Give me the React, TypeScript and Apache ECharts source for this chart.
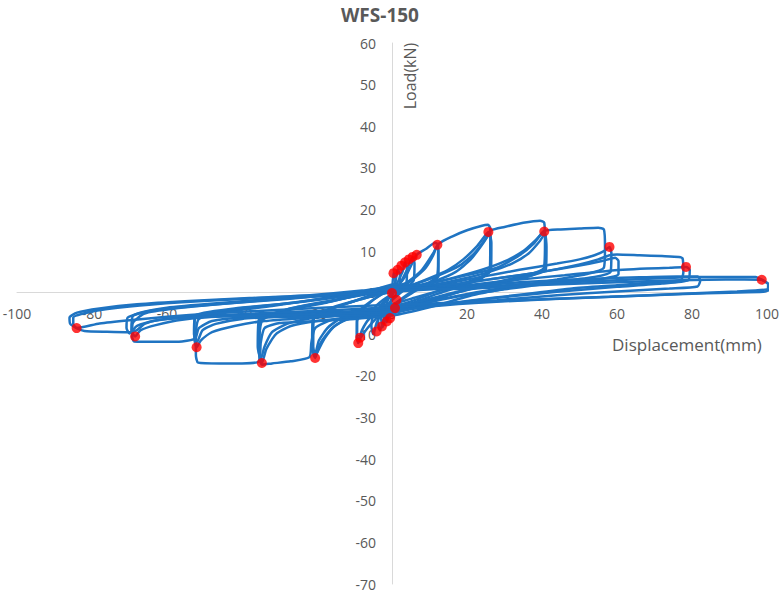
import React, { useEffect, useRef } from "react";
import * as echarts from "echarts";

// Axis ticks
const xTicks = { min: -100, max: 100, interval: 20 };
const yTicks = { min: -70, max: 60, interval: 10 };

// Hysteresis loops (displacement mm, load kN)
const small1 = [[0, 0], [0.4, 4.7], [0.9, 3.5], [0.8, 1], [0, -0.6], [-0.3, -3], [-1.4, -7.1], [-1.8, -5], [-1.2, -2], [0, 0]];
const small2 = [[0, 0], [1, 3], [1.5, 5.5], [2.1, 4.5], [2, 1.5], [1, -0.5], [0, -1.5], [-1, -4], [-2.5, -8.3], [-2.9, -6], [-2, -2.5], [0, -0.5]];
const small3 = [[0, -0.5], [1.5, 2.5], [2.8, 5], [3.5, 7.3], [4, 6], [3.8, 2], [2, 0], [0, -1.5], [-1.5, -4], [-3.2, -9.1], [-3.7, -7], [-3, -3], [0, -0.5]];
const small4 = [[0, -0.5], [2, 2], [4, 5.5], [5.5, 8.6], [6, 7], [5.8, 3], [3, 0.5], [0, -1.8], [-2, -4], [-4, -7], [-5, -10], [-5.5, -8], [-4.5, -3.5], [-2, -1.5], [0, -0.3]];

const loop12a = [[0, -0.5], [2, 2], [4, 4.5], [6.6, 9.1], [9, 10.5], [11.5, 12], [12.3, 11.5], [12.3, 8], [12, 4], [10, 2.5], [7, 1.2], [4, -0.5], [1, -2.5], [0, -3.2], [-2, -4.5], [-4, -6], [-6.5, -8.5], [-8.5, -11], [-9, -12.1], [-9.3, -11], [-9.3, -7], [-8, -4.5], [-6, -2.5], [-3, -0.5], [0, 0.8]];
const loop12b = [[0, 0.8], [3, 1.5], [6, 3.5], [9, 6], [11, 9], [12, 11.3], [12.4, 10], [12.4, 4], [10, 2.2], [6, 0.3], [2, -2], [0, -3], [-3, -4.5], [-6, -6.2], [-8, -9], [-9, -11.8], [-9.4, -10], [-9.3, -5], [-6, -2.3], [-2, 0], [0, 1]];

const loop26a = [[0, 1], [4, 2.5], [8, 5.5], [11, 9.5], [12.5, 11.8], [16, 13.5], [20, 15], [24, 16.1], [25.6, 16.3], [26.2, 15.5], [26.2, 10], [26, 5], [23, 3.5], [18, 2], [12, 0.3], [6, -1.8], [0, -3.5], [-5, -4.8], [-10, -5.8], [-15, -7.8], [-18, -11], [-20, -14.5], [-20.5, -15.7], [-21, -14.5], [-21, -9], [-20.5, -5.5], [-16, -3.8], [-10, -2], [-4, 0], [0, 1.2]];
const loop26b = [[0, 1.2], [5, 1.8], [10, 3.5], [15, 5.5], [19, 8], [22.5, 11], [24.5, 13.3], [25.7, 14.6], [26.3, 13], [26.3, 6], [24, 3.5], [18, 1.5], [12, -0.3], [6, -2.3], [0, -4], [-6, -5.2], [-12, -6.3], [-16, -8.5], [-19, -12], [-20.5, -15.3], [-21.2, -13], [-21, -6], [-16, -3.6], [-8, -1.5], [0, 0.5]];
const loop26c = [[0, 0.5], [6, 1.5], [12, 3], [17, 5], [21, 8], [24, 11.5], [26, 14], [26.5, 12], [26.4, 5.5], [22, 3], [14, 0.8], [6, -1.2], [0, -2.8], [-7, -4.3], [-13, -5.8], [-17, -8.3], [-19.5, -11.5], [-20.5, -14.8], [-21.3, -12], [-21, -6], [-14, -3.2], [-6, -1], [0, 0.3]];

const loop40a = [[0, 0.3], [6, 2], [12, 4], [18, 6.5], [22, 9.5], [25, 13], [26.5, 15], [30, 15.8], [35, 16.8], [39.5, 17.3], [40.6, 16.8], [40.8, 12], [40.5, 6], [37, 4.5], [30, 3], [22, 1.2], [14, -0.8], [6, -2.8], [0, -4.5], [-8, -5.5], [-16, -6.5], [-20.5, -8.5], [-21.5, -12], [-22, -15.5], [-27, -16.5], [-32, -17], [-34.7, -17.3], [-35.3, -16], [-35.3, -10], [-34.5, -6.5], [-28, -4.3], [-18, -2.5], [-8, -0.3], [0, 1.5]];
const loop40b = [[0, 1.5], [8, 1.8], [16, 3.5], [24, 5.5], [30, 7.5], [35, 10], [38.5, 12.8], [40.6, 14.7], [41, 12], [41, 6], [36, 3.8], [28, 2.2], [18, 0.2], [8, -2.8], [0, -5], [-10, -6], [-20, -6.8], [-27, -8], [-31, -10], [-33.5, -13.5], [-34.7, -16.9], [-35.5, -14], [-35.3, -7], [-28, -4], [-16, -2], [-6, 0], [0, 1]];
const loop40c = [[0, 1], [9, 1.6], [18, 3.2], [26, 5], [32, 7], [36.5, 9.5], [39.5, 12.5], [40.8, 14.2], [41.2, 11], [41, 5.5], [34, 3.4], [24, 1.6], [12, -1], [0, -3.8], [-12, -5.2], [-22, -6.2], [-28, -7.5], [-32, -9.5], [-34, -13], [-35, -16], [-35.8, -13], [-35.5, -6.5], [-26, -3.6], [-12, -1.2], [0, 0.6]];

const loop57a = [[0, 0.6], [8, 1.8], [18, 3.8], [28, 6], [34, 9], [38, 12], [40.5, 14.8], [45, 15.2], [50, 15.4], [55, 15.6], [56.5, 15.2], [56.8, 11], [56.5, 6], [52, 4.5], [44, 3.2], [34, 1.6], [22, -0.5], [10, -3.5], [0, -5.5], [-10, -6.3], [-20, -6.8], [-30, -7.3], [-34, -8.5], [-35, -12], [-35.5, -16.5], [-40, -17], [-46, -17], [-51.7, -16.8], [-52.3, -15], [-52.3, -10], [-51.5, -6.3], [-44, -4.6], [-32, -3.2], [-18, -1.3], [-6, 0.5], [0, 2]];
const loop57b = [[0, 2], [10, 1.6], [22, 3.5], [34, 5.5], [44, 7], [50, 8], [54, 9], [56.5, 10], [58, 11], [58.5, 9.5], [58.3, 5], [54, 3.8], [44, 2.7], [30, 1.2], [16, -1], [4, -3.5], [0, -4.5], [-10, -5.3], [-22, -6], [-34, -6.8], [-42, -8], [-48, -9.5], [-51, -11.5], [-52.1, -13.1], [-52.7, -11], [-52.5, -6], [-44, -4.2], [-30, -2.8], [-15, -1], [0, 1]];
const loop60 = [[0, 1], [12, 1.5], [26, 3.2], [40, 5], [50, 6.5], [56, 7.6], [59.5, 8.4], [60.4, 7.6], [60.4, 4.5], [56, 3.3], [44, 2.4], [30, 0.8], [14, -1.5], [0, -4], [-14, -5], [-28, -5.6], [-40, -6.3], [-47, -7.5], [-50.5, -9], [-52, -11.8], [-52.8, -10], [-52.5, -5.5], [-42, -3.8], [-26, -2.4], [-12, -0.8], [0, 0.5]];

const loop78a = [[0, 0.5], [12, 1.5], [26, 3.2], [40, 5], [50, 6.8], [55, 8], [58, 9], [60, 9.2], [66, 9], [72, 8.8], [76.5, 8.6], [77.5, 8.2], [77.7, 5], [77, 3], [70, 2.5], [60, 1.8], [48, 1], [34, -0.5], [20, -2], [6, -3.8], [0, -4.8], [-12, -5.5], [-26, -5.8], [-40, -6], [-48, -6.8], [-51.5, -8.5], [-52.5, -11], [-56, -11.7], [-62, -11.8], [-68.8, -11.7], [-69.3, -10.5], [-69.2, -7.5], [-66, -5], [-58, -3.8], [-44, -2.6], [-28, -1.5], [-12, -0.2], [0, 1]];
const loop78b = [[0, 1], [14, 1.3], [30, 2.8], [46, 4.2], [58, 5.3], [68, 5.8], [74, 6], [78.4, 6.2], [79.4, 5.5], [79, 3], [72, 2.2], [60, 1.4], [44, 0.2], [28, -1.2], [12, -3], [0, -4], [-14, -4.6], [-30, -5], [-44, -5.5], [-56, -6.5], [-63, -7.8], [-67, -9], [-68.5, -10.5], [-69.5, -9], [-69, -5.5], [-60, -3.6], [-45, -2.4], [-28, -1.3], [-12, -0.4], [0, 0.2]];
const loop80 = [[0, 0.2], [16, 1.2], [34, 2.5], [52, 3.3], [66, 3.7], [76, 3.9], [81.5, 3.9], [82.2, 3], [81.5, 1.5], [74, 1], [60, 0.3], [44, -0.6], [28, -1.8], [12, -2.8], [0, -3.5], [-16, -4.2], [-32, -4.8], [-46, -5.4], [-56, -5.9], [-63, -6.7], [-68, -8], [-70, -9.8], [-70.8, -8.5], [-70.5, -6], [-64, -4.3], [-50, -3], [-34, -1.8], [-16, -0.5], [0, 0.8]];

const loop98a = [[0, 0.8], [16, 1], [34, 2], [50, 2.6], [60, 3], [70, 3.4], [78, 3.7], [82, 3.8], [90, 3.8], [97, 3.8], [98.6, 3.1], [100.5, 2], [100.7, 0.8], [99, 0.2], [90, 0], [78, -0.3], [64, -0.8], [50, -1.3], [36, -1.8], [22, -2.5], [8, -3.5], [0, -4.5], [-12, -5], [-26, -5.3], [-40, -5.6], [-54, -6], [-62, -6.5], [-66, -7.5], [-68, -9], [-70, -9.5], [-76, -9.4], [-82, -9.2], [-84.1, -8.5], [-85.8, -7.5], [-86, -6], [-84, -4.8], [-78, -3.8], [-68, -2.8], [-54, -2], [-38, -1.3], [-22, -0.6], [-8, 0.5], [0, 1.5]];
const loop98b = [[0, 1.5], [18, 0.9], [36, 1.7], [54, 2.3], [70, 2.8], [84, 3.1], [94, 3.2], [98.6, 3.1], [100.3, 2], [100, 0.8], [92, 0.3], [76, -0.3], [58, -1], [40, -1.6], [20, -2.3], [0, -2.9], [-16, -3.5], [-32, -4.2], [-48, -5], [-60, -5.8], [-70, -6.6], [-78, -7.4], [-84.1, -8.5], [-85, -7.5], [-85, -6], [-80, -4.5], [-70, -3.3], [-56, -2.3], [-40, -1.5], [-22, -0.7], [0, 0]];

// Red peak markers
const peaksPositive = [[0.4, 4.7], [1.5, 5.5], [2.5, 6.5], [3.5, 7.3], [4.5, 8], [5.5, 8.6], [6.6, 9.1], [12.1, 11.5], [25.7, 14.6], [40.6, 14.7], [58, 11], [78.4, 6.2], [98.6, 3.1]];
const peaksNegative = [[0, -0.1], [1.2, -1.7], [0.8, -3.7], [-0.5, -6.1], [-1.4, -6.9], [-2.7, -8.1], [-4.1, -9.3], [-8.5, -10.8], [-9, -12.1], [-20.5, -15.7], [-34.7, -16.9], [-52.1, -13.1], [-68.5, -10.5], [-84.1, -8.5]];

const loops = [small1, small2, small3, small4, loop12a, loop12b, loop26a, loop26b, loop26c, loop40a, loop40b, loop40c, loop57a, loop57b, loop60, loop78a, loop78b, loop80, loop98a, loop98b];

const FONT = "'Open Sans', 'Liberation Sans', sans-serif";
const GREY = "#595959";

// grid geometry
const GRID_LEFT = 17;
const GRID_RIGHT = 16;
const GRID_TOP = 43;
const GRID_BOTTOM = 8;
const W = 783;
const H = 592;

export default function App() {
  const ref = useRef<HTMLDivElement>(null);
  useEffect(() => {
    if (!ref.current) return;
    const chart = echarts.init(ref.current, undefined, { renderer: "svg" });
    const gw = W - GRID_LEFT - GRID_RIGHT;
    const gh = H - GRID_TOP - GRID_BOTTOM;
    // shift the axes so they cross at the origin
    const yAxisOffset = -gw * (0 - xTicks.min) / (xTicks.max - xTicks.min);
    const xAxisOffset = -gh * (0 - yTicks.min) / (yTicks.max - yTicks.min);
    const lineSeries = loops.map((d) => ({
      type: "line",
      data: d,
      showSymbol: false,
      smooth: 0.2,
      lineStyle: { color: "#1f74c2", width: 2.5 },
      itemStyle: { color: "#1f74c2" },
      z: 2,
    }));
    chart.setOption({
      animation: false,
      title: {
        text: "WFS-150",
        left: 336,
        top: 0,
        textStyle: { fontFamily: FONT, fontSize: 19, fontWeight: "bold", color: GREY },
      },
      grid: {
        left: GRID_LEFT,
        right: GRID_RIGHT,
        top: GRID_TOP,
        bottom: GRID_BOTTOM,
        containLabel: false,
        outerBoundsMode: "none",
      },
      xAxis: {
        type: "value",
        min: xTicks.min,
        max: xTicks.max,
        interval: xTicks.interval,
        position: "bottom",
        offset: xAxisOffset,
        axisLine: { onZero: false, lineStyle: { color: "#d9d9d9", width: 1 } },
        axisTick: { show: false },
        splitLine: { show: false },
        axisLabel: { color: GREY, fontFamily: FONT, fontSize: 14, margin: 14, showMinLabel: true, showMaxLabel: true, hideOverlap: false },
      },
      yAxis: {
        type: "value",
        min: yTicks.min,
        max: yTicks.max,
        interval: yTicks.interval,
        position: "left",
        offset: yAxisOffset,
        axisLine: { show: true, onZero: false, lineStyle: { color: "#d9d9d9", width: 1 } },
        axisTick: { show: false },
        splitLine: { show: false },
        axisLabel: { color: GREY, fontFamily: FONT, fontSize: 14, margin: 16, showMinLabel: true, showMaxLabel: true, hideOverlap: false },
      },
      graphic: [
        {
          type: "text",
          left: 612,
          top: 336,
          style: { text: "Displacement(mm)", fill: GREY, fontFamily: FONT, fontSize: 17 },
        },
        {
          type: "text",
          x: 410,
          y: 76,
          rotation: Math.PI / 2,
          style: {
            text: "Load(kN)",
            fill: GREY,
            fontFamily: FONT,
            fontSize: 16,
            align: "center",
            verticalAlign: "middle",
          },
        },
      ],
      series: [
        ...lineSeries,
        {
          type: "scatter",
          data: peaksPositive,
          symbolSize: 10,
          itemStyle: { color: "#ff0000" },
          z: 5,
        },
        {
          type: "scatter",
          data: peaksNegative,
          symbolSize: 10,
          itemStyle: { color: "#ff0000" },
          z: 5,
        },
      ],
    });
    return () => chart.dispose();
  }, []);
  return <div ref={ref} style={{ position: "absolute", left: 0, top: 0, width: W, height: H }} />;
}
